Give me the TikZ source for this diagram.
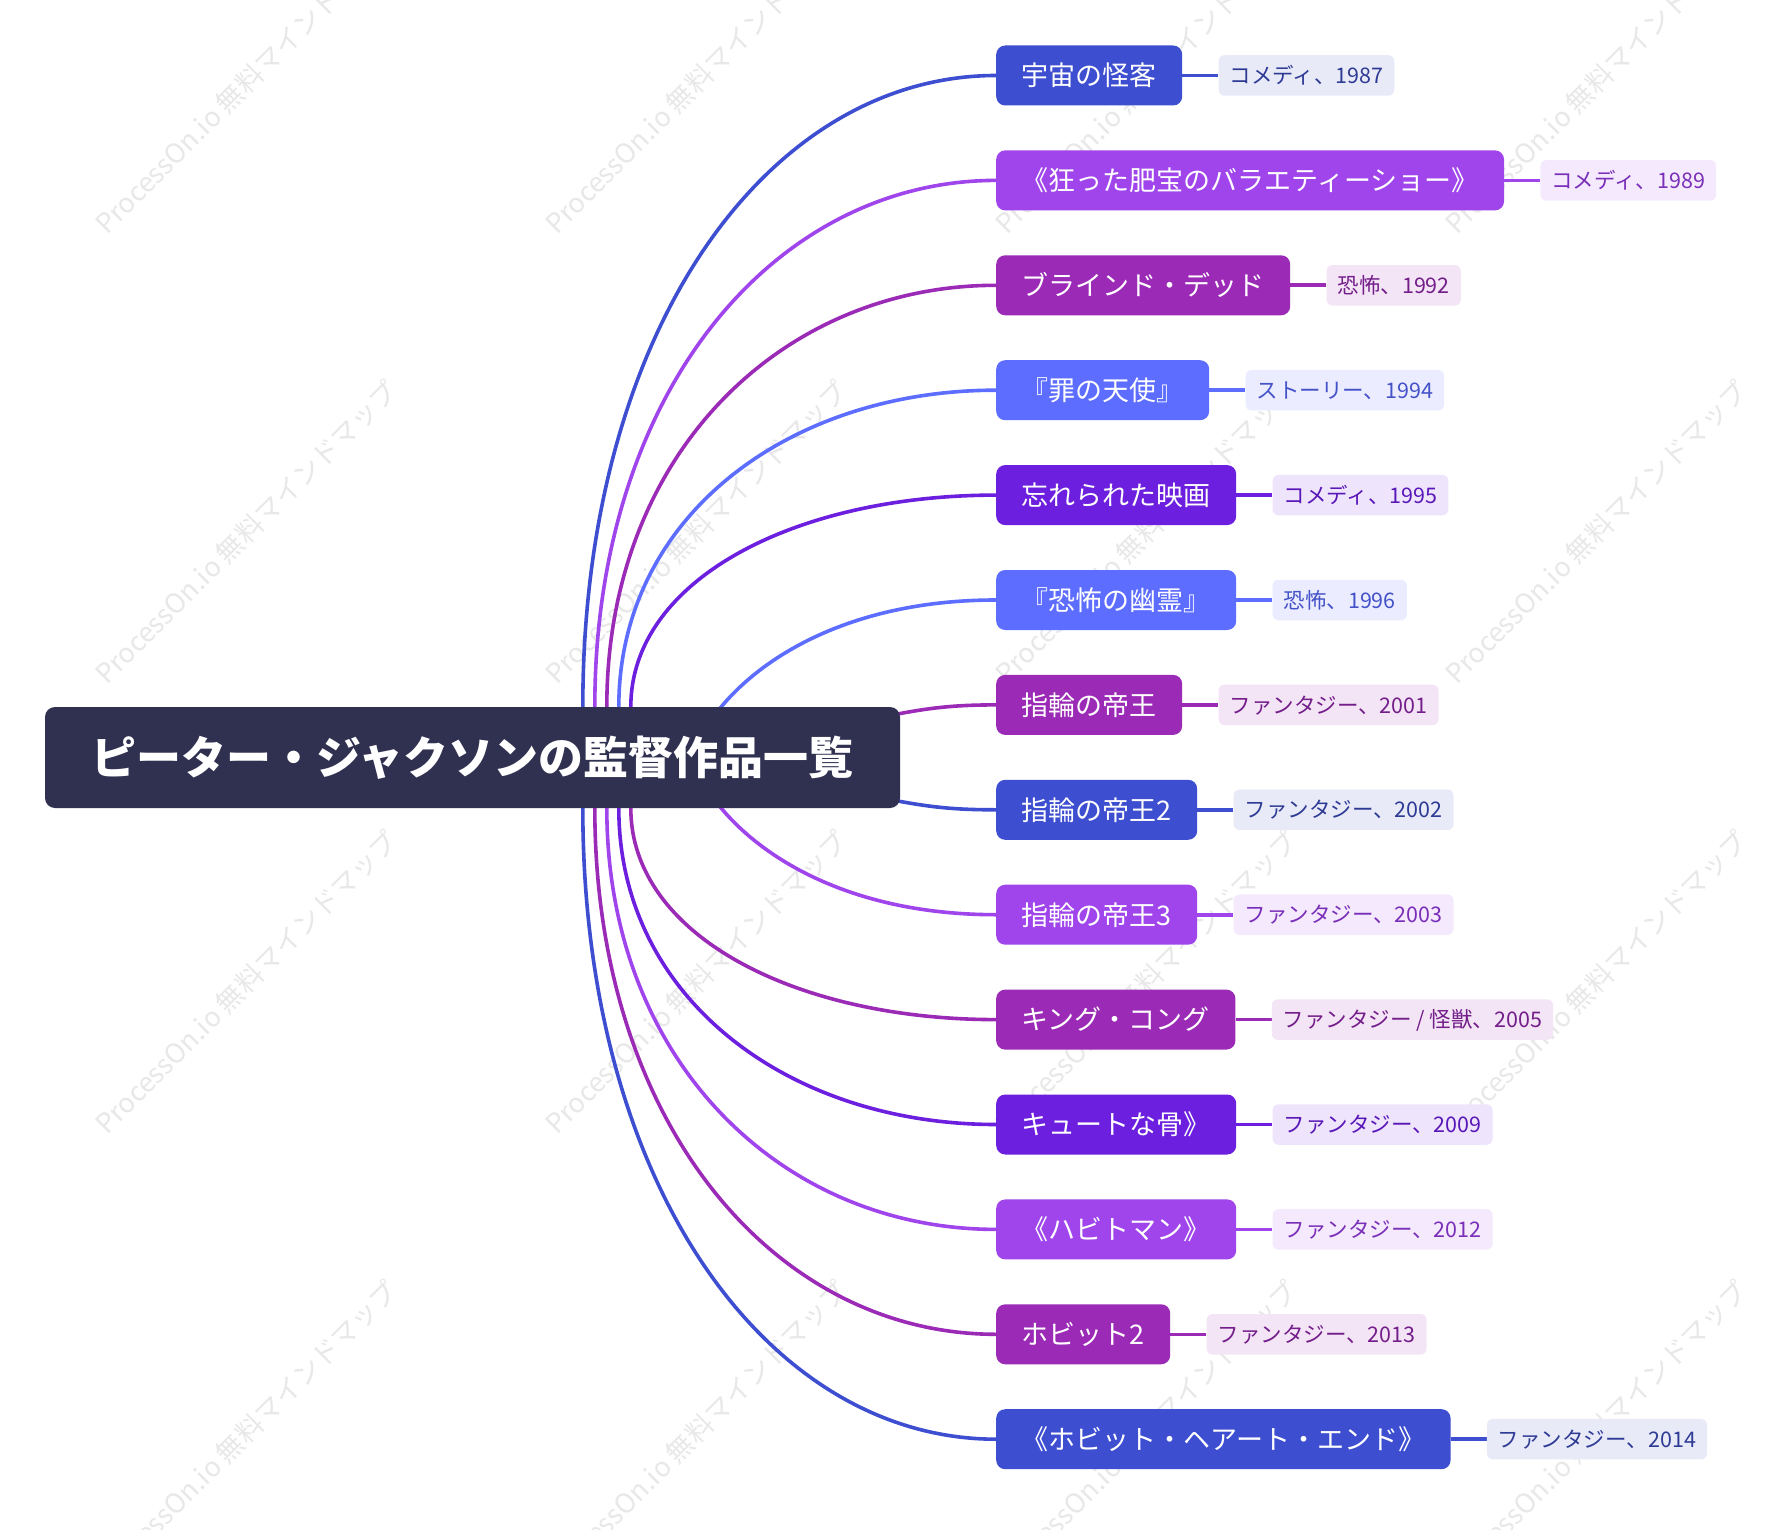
\documentclass[tikz,border=0pt]{standalone}
\usepackage{fontspec}
\setmainfont{Noto Sans CJK JP}
\usetikzlibrary{calc}
\pgfdeclarelayer{wmlayer}
\pgfdeclarelayer{bg}
\pgfsetlayers{wmlayer,bg,main}

\definecolor{cRoot}{HTML}{303150}
\definecolor{cBlue}{HTML}{3D4ED1}
\definecolor{cBlueF}{HTML}{E8EAF8}
\definecolor{cBlueT}{HTML}{2E3B95}
\definecolor{cPurple}{HTML}{A044EC}
\definecolor{cPurpleF}{HTML}{F4E9FD}
\definecolor{cPurpleT}{HTML}{7A2FB8}
\definecolor{cMag}{HTML}{9B2AB6}
\definecolor{cMagF}{HTML}{F3E5F6}
\definecolor{cMagT}{HTML}{741E8A}
\definecolor{cLight}{HTML}{5C6DFF}
\definecolor{cLightF}{HTML}{EBECFF}
\definecolor{cLightT}{HTML}{4452C8}
\definecolor{cViolet}{HTML}{6C1FDE}
\definecolor{cVioletF}{HTML}{EEE5FC}
\definecolor{cVioletT}{HTML}{5A17B8}

\tikzset{
  rootbox/.style={fill=cRoot, text=white, rounded corners=10pt,
    minimum width=855pt, minimum height=101pt, inner sep=0pt,
    text height=39.6pt, text depth=5.4pt,
    font=\fontsize{45}{45}\selectfont\bfseries},
  film/.style={fill=#1, text=white, rounded corners=9pt, anchor=west,
    minimum height=60pt, inner xsep=25.5pt, inner ysep=0pt,
    text height=23.8pt, text depth=3.2pt,
    font=\fontsize{27}{27}\selectfont},
  info/.style={fill=#1F, text=#1T, rounded corners=6pt, anchor=west,
    minimum height=40.5pt, inner xsep=11pt, inner ysep=0pt,
    text height=18.9pt, text depth=2.6pt,
    font=\fontsize{21.5}{21.5}\selectfont},
  link/.style={draw=#1, line width=3.6pt},
  wmark/.style={anchor=base west, rotate=45, text=black!9, inner sep=0pt,
    font=\fontsize{27}{27}\selectfont},
}

\newcommand\mmfilm[5]{%
  \node[film=#3] (f#1) at (996,#2) {#4};
  \node[info=#3] (t#1) at ([xshift=36pt]f#1.east) {#5};
  \begin{pgfonlayer}{bg}
    \draw[link=#3] (f#1.east) -- (t#1.west);
  \end{pgfonlayer}}

\newcommand\mmbranch[3]{%
  \begin{pgfonlayer}{bg}
  \draw[link=#1] (#2) .. controls ($(#2)!0.6!(#2 |- #3.west)$)
     and ($(#3.west -| #2)!0.45!(#3.west)$) .. (#3.west);
  \end{pgfonlayer}}

\begin{document}
\begin{tikzpicture}[x=1pt, y=-1pt]
\useasboundingbox (0,0) rectangle (1765,1530);

\begin{pgfonlayer}{wmlayer}
\fill[white] (0,0) rectangle (1765,1530);
\foreach \x in {107,557,1007,1457}
  \foreach \y in {236,686,1136,1586}
    \node[wmark] (wm-\x-\y) at (\x,\y) {ProcessOn.io 無料マインドマップ};
\end{pgfonlayer}

\node[rootbox] (root) at (472.5,757.5) {ピーター・ジャクソンの監督作品一覧};

\mmfilm{1}{75.5}{cBlue}{宇宙の怪客}{コメディ、1987}
\mmfilm{2}{180.4}{cPurple}{《狂った肥宝のバラエティーショー》}{コメディ、1989}
\mmfilm{3}{285.3}{cMag}{ブラインド・デッド}{恐怖、1992}
\mmfilm{4}{390.2}{cLight}{『罪の天使』}{ストーリー、1994}
\mmfilm{5}{495.1}{cViolet}{忘れられた映画}{コメディ、1995}
\mmfilm{6}{600.0}{cLight}{『恐怖の幽霊』}{恐怖、1996}
\mmfilm{7}{704.9}{cMag}{指輪の帝王}{ファンタジー、2001}
\mmfilm{8}{809.8}{cBlue}{指輪の帝王2}{ファンタジー、2002}
\mmfilm{9}{914.7}{cPurple}{指輪の帝王3}{ファンタジー、2003}
\mmfilm{10}{1019.6}{cMag}{キング・コング}{ファンタジー / 怪獣、2005}
\mmfilm{11}{1124.5}{cViolet}{キュートな骨》}{ファンタジー、2009}
\mmfilm{12}{1229.4}{cPurple}{《ハビトマン》}{ファンタジー、2012}
\mmfilm{13}{1334.3}{cMag}{ホビット2}{ファンタジー、2013}
\mmfilm{14}{1439.2}{cBlue}{《ホビット・ヘアート・エンド》}{ファンタジー、2014}

% start points on the root's edges
\coordinate (s1) at ([xshift=538pt]root.north west);
\coordinate (s2) at ([xshift=550pt]root.north west);
\coordinate (s3) at ([xshift=562pt]root.north west);
\coordinate (s4) at ([xshift=574pt]root.north west);
\coordinate (s5) at ([xshift=586pt]root.north west);
\coordinate (s10) at ([xshift=586pt]root.south west);
\coordinate (s11) at ([xshift=574pt]root.south west);
\coordinate (s12) at ([xshift=562pt]root.south west);
\coordinate (s13) at ([xshift=550pt]root.south west);
\coordinate (s14) at ([xshift=538pt]root.south west);
\coordinate (s6) at ([xshift=660pt,yshift=-23pt]root.north west);
\coordinate (s9) at ([xshift=660pt,yshift=23pt]root.south west);
\coordinate (s7) at ([xshift=815pt,yshift=-15pt]root.north west);
\coordinate (s8) at ([xshift=815pt,yshift=15pt]root.south west);

\mmbranch{cBlue}{s1}{f1}
\mmbranch{cPurple}{s2}{f2}
\mmbranch{cMag}{s3}{f3}
\mmbranch{cLight}{s4}{f4}
\mmbranch{cViolet}{s5}{f5}
\mmbranch{cMag}{s10}{f10}
\mmbranch{cViolet}{s11}{f11}
\mmbranch{cPurple}{s12}{f12}
\mmbranch{cMag}{s13}{f13}
\mmbranch{cBlue}{s14}{f14}

\begin{pgfonlayer}{bg}
\draw[link=cLight] (s6) .. controls ($(s6)+(36,-60)$) and ($(f6.west)+(-160,0)$) .. (f6.west);
\draw[link=cPurple] (s9) .. controls ($(s9)+(36,60)$) and ($(f9.west)+(-160,0)$) .. (f9.west);
\draw[link=cMag] (s7) .. controls ($(s7)+(60,-13)$) and ($(f7.west)+(-50,0)$) .. (f7.west);
\draw[link=cBlue] (s8) .. controls ($(s8)+(60,13)$) and ($(f8.west)+(-50,0)$) .. (f8.west);
\end{pgfonlayer}
\end{tikzpicture}
\end{document}
